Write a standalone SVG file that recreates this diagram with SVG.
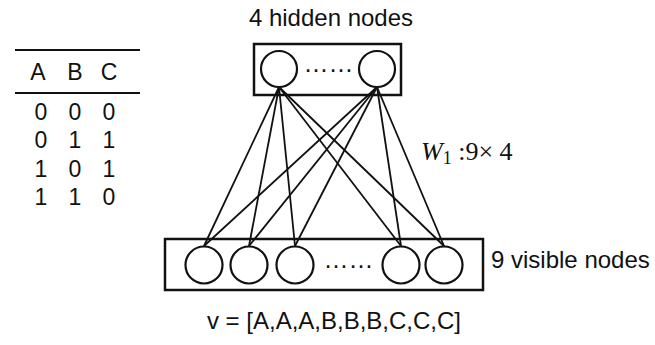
<svg xmlns="http://www.w3.org/2000/svg" width="655" height="345" viewBox="0 0 655 345">
  <style>
    .lbl { font-family: "Liberation Sans", Arial, sans-serif; font-size: 24px; fill: #111; }
    .tbl { font-family: "Liberation Sans", Arial, sans-serif; font-size: 23px; fill: #111; text-anchor: middle; }
    .math { font-family: "Liberation Serif", "Times New Roman", serif; font-size: 26px; fill: #111; }
    .box { fill: none; stroke: #111; stroke-width: 2.5; }
    .node { fill: #fff; stroke: #111; stroke-width: 2.2; }
    .rule { stroke: #111; stroke-width: 2; }
    .edge { stroke: #111; stroke-width: 1.8; fill: none; }
    .dots { font-family: "Liberation Sans", Arial, sans-serif; font-size: 25px; fill: #111; text-anchor: middle; }
  </style>
  <rect width="655" height="345" fill="#fff"/>

  <!-- truth table -->
  <g id="table">
    <line class="rule" x1="15" y1="50" x2="140" y2="50"/>
    <line class="rule" x1="15" y1="93" x2="140" y2="93"/>
    <text class="tbl" x="38" y="80">A</text>
    <text class="tbl" x="75" y="80">B</text>
    <text class="tbl" x="109" y="80">C</text>
    <text class="tbl" x="41" y="120">0</text>
    <text class="tbl" x="75" y="120">0</text>
    <text class="tbl" x="109" y="120">0</text>
    <text class="tbl" x="41" y="148">0</text>
    <text class="tbl" x="75" y="148">1</text>
    <text class="tbl" x="109" y="148">1</text>
    <text class="tbl" x="41" y="177">1</text>
    <text class="tbl" x="75" y="177">0</text>
    <text class="tbl" x="109" y="177">1</text>
    <text class="tbl" x="41" y="205">1</text>
    <text class="tbl" x="75" y="205">1</text>
    <text class="tbl" x="109" y="205">0</text>
  </g>

  <!-- weights between layers -->
  <g id="connectors">
    <line class="edge" x1="279" y1="87" x2="204" y2="246"/>
    <line class="edge" x1="279" y1="87" x2="249" y2="246"/>
    <line class="edge" x1="279" y1="87" x2="295" y2="246"/>
    <line class="edge" x1="279" y1="87" x2="401" y2="246"/>
    <line class="edge" x1="279" y1="87" x2="444" y2="246"/>
    <line class="edge" x1="377" y1="87" x2="204" y2="246"/>
    <line class="edge" x1="377" y1="87" x2="249" y2="246"/>
    <line class="edge" x1="377" y1="87" x2="295" y2="246"/>
    <line class="edge" x1="377" y1="87" x2="401" y2="246"/>
    <line class="edge" x1="377" y1="87" x2="444" y2="246"/>
  </g>

  <!-- hidden layer -->
  <g id="hidden-layer">
    <text class="lbl" x="331" y="26" text-anchor="middle">4 hidden nodes</text>
    <rect class="box" x="254" y="44" width="147" height="51"/>
    <circle id="h1" class="node" cx="279" cy="69" r="18"/>
    <circle id="h4" class="node" cx="377" cy="69" r="18"/>
    <text class="dots" x="328.5" y="72">……</text>
  </g>

  <!-- visible layer -->
  <g id="visible-layer">
    <rect class="box" x="165" y="239" width="318" height="51"/>
    <circle id="v1" class="node" cx="204" cy="265" r="18.5"/>
    <circle id="v2" class="node" cx="249" cy="265" r="18.5"/>
    <circle id="v3" class="node" cx="295" cy="265" r="18.5"/>
    <text class="dots" x="348.5" y="268">……</text>
    <circle id="v8" class="node" cx="401" cy="265" r="18.5"/>
    <circle id="v9" class="node" cx="444" cy="265" r="18.5"/>
    <text class="lbl" x="491" y="268">9 visible nodes</text>
  </g>

  <!-- weight matrix label -->
  <g id="weight-label">
    <text class="math" x="421" y="160"><tspan font-style="italic">W</tspan><tspan font-size="18" dy="4">1</tspan><tspan dy="-4"> :9× 4</tspan></text>
  </g>

  <text class="lbl" x="334" y="329" text-anchor="middle">v = [A,A,A,B,B,B,C,C,C]</text>
</svg>
